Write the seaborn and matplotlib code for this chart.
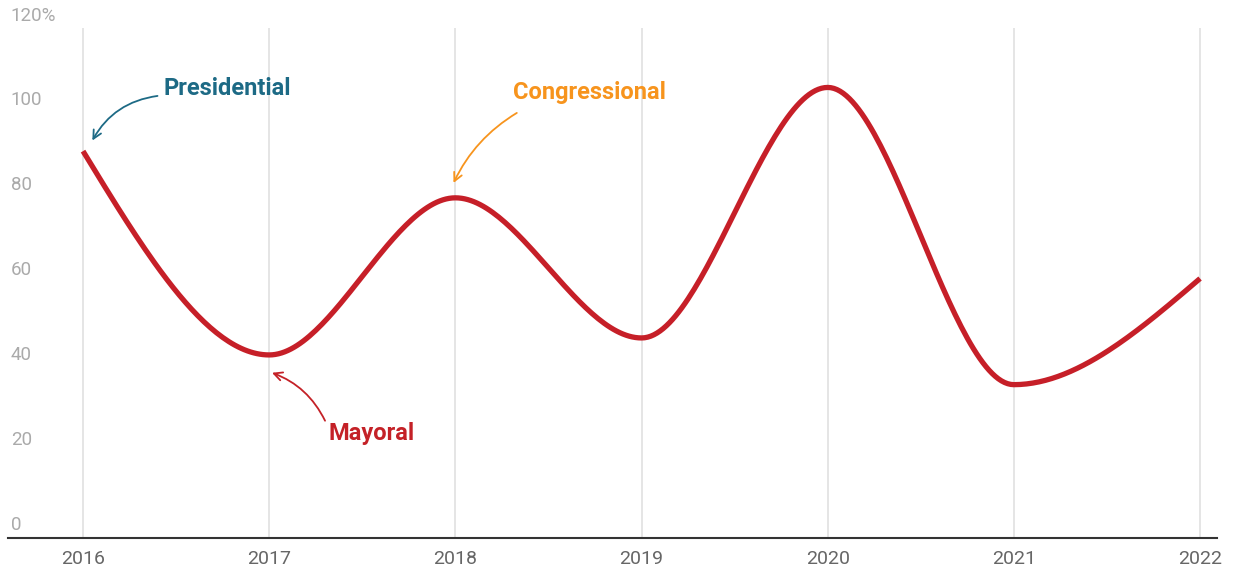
import numpy as np
import pandas as pd
import matplotlib
matplotlib.use("Agg")
import matplotlib.pyplot as plt
import seaborn as sns

years = [2016, 2017, 2018, 2019, 2020, 2021, 2022]
turnout = [91, 43, 80, 47, 106, 36, 61]
y_ticks = [0, 20, 40, 60, 80, 100, 120]
y_tick_labels = ["0", "20", "40", "60", "80", "100", "120%"]

LINE_RED = "#c61f28"


def monotone_curve(xs, ys, n=60):
    """Monotone cubic (Fritsch-Carlson style, as d3.curveMonotoneX) through the points."""
    xs = np.asarray(xs, float)
    ys = np.asarray(ys, float)
    h = np.diff(xs)
    s = np.diff(ys) / h
    t = np.zeros_like(ys)
    for i in range(1, len(ys) - 1):
        h0, h1, s0, s1 = h[i - 1], h[i], s[i - 1], s[i]
        p = (s0 * h1 + s1 * h0) / (h0 + h1)
        t[i] = (np.sign(s0) + np.sign(s1)) * min(abs(s0), abs(s1), 0.5 * abs(p))
    t[0] = (3 * s[0] - t[1]) / 2
    t[-1] = (3 * s[-1] - t[-2]) / 2
    out_x, out_y = [], []
    for i in range(len(xs) - 1):
        u = np.linspace(0, 1, n, endpoint=(i == len(xs) - 2))
        h00 = 2 * u**3 - 3 * u**2 + 1
        h10 = u**3 - 2 * u**2 + u
        h01 = -2 * u**3 + 3 * u**2
        h11 = u**3 - u**2
        out_x.append(xs[i] + u * h[i])
        out_y.append(h00 * ys[i] + h10 * h[i] * t[i] + h01 * ys[i + 1] + h11 * h[i] * t[i + 1])
    return np.concatenate(out_x), np.concatenate(out_y)


sns.set_style("white")
plt.rcParams["font.family"] = ["Roboto", "DejaVu Sans"]

fig = plt.figure(figsize=(12.33, 5.69), dpi=100)
ax = fig.add_axes([8 / 1233, 1 - 537.5 / 569, (1217 - 8) / 1233, (537.5 - 28) / 569])

cx, cy = monotone_curve(years, turnout)
curve = pd.DataFrame({"year": cx, "turnout": cy})
sns.lineplot(data=curve, x="year", y="turnout", ax=ax, color=LINE_RED,
             linewidth=3.8, solid_capstyle="butt", zorder=3)

ax.set_xlim(2015.597, 2022.091)
ax.set_ylim(0, 120)

# vertical year gridlines
ax.set_xticks(years)
ax.set_xticklabels([str(y) for y in years], fontsize=14, color="#666666")
ax.tick_params(axis="x", length=0, pad=9)
ax.grid(axis="x", color="#e3e3e3", linewidth=1.3)
ax.grid(axis="y", visible=False)
ax.set_yticks([])
ax.set_xlabel("")
ax.set_ylabel("")

for side in ["top", "right", "left"]:
    ax.spines[side].set_visible(False)
ax.spines["bottom"].set_color("#333333")
ax.spines["bottom"].set_linewidth(1.5)

# value labels sitting just above their (hidden) gridlines
for v, lab in zip(y_ticks, y_tick_labels):
    ax.annotate(lab, xy=(0, v), xycoords=("axes fraction", "data"),
                xytext=(2, 2.5), textcoords="offset points",
                ha="left", va="bottom", fontsize=13.5, color="#aaaaaa")

# annotations: label, colour, text position, arrow start, arrow end, curvature
notes = [
    ("Presidential", "#1d6a85", (2016.43, 105.7), (2016.40, 104.0), (2016.05, 93.5), 0.25),
    ("Congressional", "#f7941d", (2018.31, 104.8), (2018.33, 100.0), (2017.99, 83.5), 0.15),
    ("Mayoral", "#c42127", (2017.32, 24.6), (2017.30, 27.5), (2017.015, 38.8), 0.2),
]
for label, color, tpos, start, end, rad in notes:
    ax.text(tpos[0], tpos[1], label, color=color, fontsize=17, fontweight="bold",
            ha="left", va="center")
    ax.annotate("", xy=end, xytext=start,
                arrowprops=dict(arrowstyle="->,head_length=0.6,head_width=0.3",
                                color=color, linewidth=1.3, shrinkA=0, shrinkB=0,
                                connectionstyle=f"arc3,rad={rad}"))

fig.savefig("out.png", dpi=100)
